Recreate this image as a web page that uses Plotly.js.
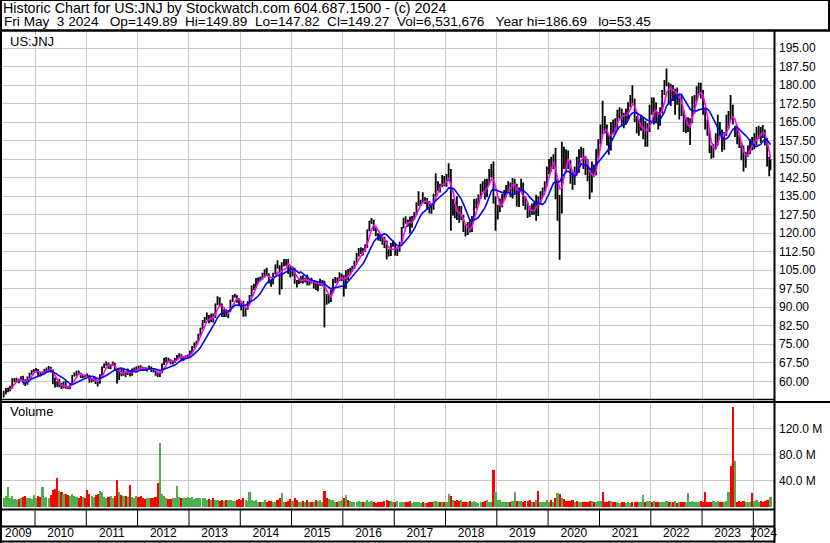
<!DOCTYPE html>
<html>
<head>
<meta charset="utf-8">
<script src="https://cdn.plot.ly/plotly-3.0.1.min.js"></script>
<style>
html,body{margin:0;padding:0;background:#ffffff;}
#chart{width:830px;height:543px;}
</style>
</head>
<body>
<div id="chart"></div>
<script>
// ---------------- DATA (semi-monthly bars, May 2009 - May 2024) ----------------
const open = [
  54.3,55.2,56.6,56.9,57.4,60.3,60.5,60.6,60.2,61.0,59.6,59.0,61.2,63.1,64.1,
  64.5,64.6,63.1,62.9,63.3,64.7,65.2,65.4,64.3,61.0,58.4,58.0,59.1,57.8,58.1,57.4,57.0,58.8,62.1,63.1,63.7,63.2,61.6,62.0,
  62.5,62.3,59.8,60.3,61.4,59.3,59.2,62.6,65.7,66.8,67.3,66.3,66.5,67.2,64.8,61.0,64.5,63.6,63.7,63.1,64.4,62.8,64.7,64.9,
  65.6,65.5,65.4,65.0,64.8,65.2,65.9,64.6,64.2,63.3,62.4,63.5,66.9,68.1,69.0,68.4,67.3,67.8,68.9,70.3,70.8,69.4,69.7,69.9,
  70.1,72.0,73.9,75.2,76.1,78.9,81.5,84.5,85.2,86.4,84.2,86.5,85.9,91.2,93.5,91.0,86.4,88.7,86.7,88.5,92.6,94.5,94.7,92.5,
  91.6,89.5,88.5,89.4,92.1,94.7,98.2,98.4,101.3,101.7,101.5,102.3,104.6,103.4,100.1,99.5,103.7,106.9,106.6,98.0,107.8,108.7,108.3,106.0,
  104.6,105.0,100.1,99.8,100.6,102.3,100.6,101.5,99.2,101.2,100.1,100.4,97.5,99.8,100.2,100.5,94.0,93.0,93.4,96.5,101.0,101.4,101.2,102.3,
  102.7,98.5,104.4,104.3,105.2,105.9,108.2,111.5,112.0,112.8,112.7,115.0,121.3,124.5,125.2,121.5,119.3,118.5,118.1,117.5,116.0,112.0,111.3,115.2,
  115.2,112.7,113.2,116.0,122.2,126.0,124.6,123.8,123.5,126.5,128.3,132.0,132.3,132.9,132.7,133.8,132.4,130.3,130.0,135.5,139.4,139.7,139.3,140.6,
  139.7,143.6,145.5,128.5,129.9,129.0,128.2,126.3,126.5,121.5,119.6,122.8,121.3,126.5,132.5,132.5,134.7,139.0,138.2,135.0,140.0,145.7,146.9,127.0,
  129.0,129.8,133.0,134.0,136.6,137.5,139.8,138.9,138.5,139.0,131.2,137.8,139.3,132.0,130.2,128.2,128.0,130.5,129.4,134.0,132.0,134.8,137.5,139.6,
  145.9,149.0,148.9,151.5,134.5,134.8,131.1,153.0,150.0,149.5,148.7,140.8,140.6,146.4,145.8,152.7,153.4,149.6,148.9,144.1,137.1,145.7,144.7,154.0,
  157.4,163.8,163.1,162.4,158.5,154.0,164.4,164.0,162.7,168.4,169.3,168.0,164.7,169.0,172.2,175.0,173.1,166.5,161.5,162.8,162.9,164.0,155.9,163.5,
  171.1,168.5,172.3,167.5,164.6,169.5,177.2,180.0,180.5,175.0,179.5,176.5,177.5,173.5,174.5,168.0,161.4,162.5,163.4,165.0,174.0,174.5,178.0,178.5,
  176.7,169.5,163.4,160.5,153.3,151.0,155.0,156.0,163.7,161.5,155.0,160.5,165.5,170.0,169.0,161.0,161.7,158.0,155.7,150.5,148.3,152.5,154.6,157.5,
  156.7,158.0,158.9,162.0,161.4,160.5,158.2,149.0,146.5
];
const high = [
  56.2,57.3,57.5,58.2,61.2,61.3,61.4,61.0,62.0,62.2,60.8,61.9,63.5,64.5,65.0,
  65.4,65.0,63.8,64.0,65.0,65.6,66.2,65.9,64.8,61.5,60.0,61.0,59.4,59.9,60.0,58.2,59.2,62.6,63.6,64.3,64.4,63.5,62.6,62.8,
  63.2,62.6,61.3,62.0,61.6,60.3,62.9,66.0,67.2,68.0,67.5,66.9,68.0,67.5,65.2,64.9,65.2,65.0,64.0,65.2,64.6,65.2,65.6,66.0,
  66.3,66.5,65.9,65.7,65.6,66.4,66.0,65.2,64.6,63.6,64.0,67.2,69.5,69.8,69.5,68.9,68.5,69.4,70.7,71.4,71.0,70.0,70.6,70.9,
  72.5,74.3,75.8,76.4,79.3,81.7,84.8,86.0,87.9,86.9,87.5,87.5,91.5,94.4,94.0,91.5,89.3,89.2,88.9,93.0,95.0,95.5,94.9,93.5,
  92.0,92.6,89.8,92.4,95.0,98.8,99.5,101.8,102.0,102.4,104.0,105.4,106.0,103.8,101.0,104.0,107.3,109.0,107.0,108.2,109.5,109.4,109.5,107.0,
  106.5,106.0,101.0,101.5,102.8,103.0,102.0,103.2,101.6,101.9,101.0,100.8,100.0,101.5,101.0,100.7,95.4,95.0,97.2,101.5,102.2,102.0,104.2,103.7,
  103.0,105.0,105.5,106.0,106.8,108.8,112.0,114.0,114.3,114.0,115.5,121.5,125.0,126.1,125.4,122.3,120.0,119.7,119.0,118.5,117.0,113.5,116.0,117.0,
  116.0,114.3,116.5,122.5,126.1,126.9,125.5,126.8,127.0,128.5,132.5,137.0,133.5,136.6,134.5,134.2,133.0,131.5,136.0,144.3,141.0,140.0,143.6,143.2,
  144.0,148.3,146.0,133.8,132.0,135.0,131.0,131.0,127.5,123.5,124.5,125.5,127.0,133.8,134.0,135.7,140.0,141.0,141.9,142.0,146.0,148.0,149.0,135.0,
  131.5,134.0,136.0,137.5,139.5,141.0,140.5,142.3,142.0,140.0,138.5,142.0,140.5,135.0,132.5,131.0,132.0,132.5,135.6,135.0,137.0,138.5,141.0,147.0,
  150.0,151.0,152.0,154.5,142.0,135.5,157.0,155.0,154.0,153.5,149.5,145.0,147.0,151.0,154.0,155.0,154.5,151.0,150.0,146.5,149.0,147.8,154.0,158.0,
  164.0,173.6,167.5,164.0,159.5,165.0,166.0,166.5,170.0,171.0,170.5,168.8,170.5,173.0,176.0,179.9,174.5,167.5,166.0,168.0,167.0,165.5,164.5,172.0,
  175.0,175.0,173.0,169.0,171.0,178.0,182.0,186.7,181.0,180.5,180.0,178.5,179.0,176.0,176.0,170.0,167.0,167.0,166.5,175.5,176.0,179.5,181.0,180.9,
  178.0,170.5,166.0,161.5,155.5,156.0,160.5,168.0,165.0,162.0,161.0,168.0,169.5,176.0,172.0,163.5,163.5,160.0,157.0,155.5,153.0,155.5,158.0,159.0,
  160.5,163.0,163.5,163.0,163.8,162.0,158.5,151.0,149.9
];
const low = [
  53.45,54.8,55.6,56.0,57.1,59.6,59.5,59.2,60.0,59.2,58.1,58.6,61.0,62.7,63.8,
  63.6,62.2,61.9,62.6,63.0,64.2,64.6,63.6,58.8,57.5,57.8,57.6,56.9,57.2,57.0,56.9,56.9,58.5,61.9,62.3,62.6,61.3,61.2,61.5,
  61.6,59.4,59.6,60.0,58.9,57.9,59.1,62.3,65.4,66.3,65.0,64.9,66.3,64.3,59.1,60.5,62.0,62.3,61.6,62.6,61.9,62.3,63.8,64.4,
  64.9,64.6,64.3,64.3,64.0,64.9,63.8,63.6,62.3,61.7,61.7,63.3,66.6,67.6,67.8,66.9,66.8,67.5,68.6,69.6,68.0,68.3,69.2,69.3,
  70.0,71.5,73.5,74.6,75.9,78.5,81.0,83.6,84.9,83.5,83.9,83.8,85.7,90.8,90.2,86.0,86.0,86.0,85.5,88.2,92.1,93.8,91.8,90.9,
  88.8,86.1,86.2,89.0,91.8,94.3,97.0,97.8,99.5,100.5,101.2,102.0,103.0,99.6,98.3,99.3,103.4,105.6,95.1,97.3,106.5,106.8,103.5,102.0,
  102.5,99.5,98.0,99.3,99.8,99.6,100.0,98.9,98.8,99.6,97.6,97.0,96.5,98.7,98.5,81.8,91.0,91.5,92.1,96.0,99.7,99.8,100.6,100.5,
  94.3,97.5,100.9,103.4,104.5,105.5,107.8,110.5,111.6,111.0,112.5,114.0,120.8,123.7,120.9,118.8,117.0,116.7,115.3,114.0,109.3,110.5,110.8,114.5,
  111.0,110.8,112.5,115.7,122.0,123.8,122.6,120.0,122.2,125.5,127.5,131.0,131.0,132.0,131.8,129.5,128.0,127.9,129.5,135.0,137.1,136.5,138.6,139.0,
  138.8,141.0,121.0,127.2,126.0,125.3,124.2,125.2,120.5,118.6,119.3,120.3,120.5,125.0,130.0,131.5,134.0,136.8,133.6,134.5,139.5,142.5,132.0,121.0,
  125.5,128.5,130.5,133.5,134.5,136.5,134.5,134.0,136.0,130.8,130.6,137.3,131.0,129.5,126.1,126.5,127.5,127.5,125.0,127.0,131.5,134.5,136.9,139.0,
  144.0,145.0,146.0,133.7,125.0,109.2,128.0,146.0,145.0,146.0,140.0,137.6,139.5,144.5,144.5,150.5,146.0,143.6,141.0,133.7,136.5,143.0,143.5,150.5,
  156.0,160.0,160.5,155.5,151.8,153.5,160.5,160.8,162.0,166.5,163.7,162.5,164.0,166.0,171.0,172.5,165.0,160.5,159.5,161.5,158.0,155.0,155.0,161.0,
  168.0,164.0,164.5,162.0,163.5,168.5,176.0,179.5,172.0,171.5,173.5,168.0,172.0,166.0,167.5,161.0,160.5,161.0,155.7,164.5,168.5,173.5,176.0,174.5,
  168.0,162.0,159.5,152.5,150.1,150.5,154.5,155.5,159.5,153.0,153.8,159.5,162.5,166.0,164.0,159.0,156.0,154.5,149.5,144.95,146.5,151.0,152.0,153.5,
  154.0,155.5,158.0,156.5,158.5,155.5,147.0,143.1,145.5
];
const close = [
  55.2,56.6,56.9,57.4,60.3,60.5,60.6,60.2,61.0,59.6,59.0,61.2,63.1,64.1,64.5,
  64.6,63.1,62.9,63.3,64.7,65.2,65.4,64.3,61.0,58.4,58.0,59.1,57.8,58.1,57.4,57.0,58.8,62.1,63.1,63.7,63.2,61.6,62.0,61.9,
  62.3,59.8,60.3,61.4,59.3,59.2,62.6,65.7,66.8,67.3,66.3,66.5,67.2,64.8,61.0,64.5,63.6,63.7,63.1,64.4,62.8,64.7,64.9,65.6,
  65.5,65.4,65.0,64.8,65.2,65.9,64.6,64.2,63.3,62.4,63.5,66.9,68.1,69.0,68.4,67.3,67.8,68.9,70.3,70.8,69.4,69.7,69.9,70.1,
  72.0,73.9,75.2,76.1,78.9,81.5,84.5,85.2,86.4,84.2,86.5,85.9,91.2,93.5,91.0,86.4,88.7,86.7,88.5,92.6,94.5,94.7,92.5,91.6,
  89.5,88.5,89.4,92.1,94.7,98.2,98.4,101.3,101.7,101.5,102.3,104.6,103.4,100.1,99.5,103.7,106.9,106.6,98.0,107.8,108.7,108.3,106.0,104.6,
  105.0,100.1,99.8,100.6,102.3,100.6,101.5,99.2,101.2,100.1,100.4,97.5,99.8,100.2,100.5,94.0,93.0,93.4,96.5,101.0,101.4,101.2,102.3,102.7,
  98.5,104.4,104.3,105.2,105.9,108.2,111.5,112.0,112.8,112.7,115.0,121.3,124.5,125.2,121.5,119.3,118.5,118.1,117.5,116.0,112.0,111.3,115.2,115.2,
  112.7,113.2,116.0,122.2,126.0,124.6,123.8,123.5,126.5,128.3,132.0,132.3,132.9,132.7,133.8,132.4,130.3,130.0,135.5,139.4,139.7,139.3,140.6,139.7,
  143.6,145.5,128.5,129.9,129.0,128.2,126.3,126.5,121.5,119.6,122.8,121.3,126.5,132.5,132.5,134.7,139.0,138.2,135.0,140.0,145.7,146.9,133.5,129.0,
  129.8,133.0,134.0,136.6,137.5,139.8,138.9,141.2,139.0,131.2,137.8,139.3,132.0,130.2,128.2,128.0,130.5,129.4,134.0,132.0,134.8,137.5,139.6,145.9,
  149.0,148.9,151.5,134.5,134.8,131.1,153.0,150.0,149.5,148.7,140.8,140.6,146.4,145.8,152.7,153.4,149.6,148.9,144.1,137.1,145.7,144.7,154.0,157.4,
  163.8,163.1,162.4,158.5,154.0,164.4,164.0,162.7,168.4,169.3,168.0,164.7,169.0,172.2,175.0,173.1,166.5,161.5,162.8,162.9,164.0,155.9,163.5,171.1,
  168.5,172.3,167.5,164.6,169.5,177.2,180.0,180.5,175.0,179.5,176.5,177.5,173.5,174.5,168.0,161.4,162.5,163.4,165.0,174.0,174.5,178.0,178.5,176.7,
  169.5,163.4,160.5,153.3,151.0,155.0,156.0,163.7,161.5,155.0,160.5,165.5,168.5,169.0,165.5,161.7,158.0,155.7,150.5,148.3,152.5,154.6,157.5,156.7,
  158.0,158.9,162.0,161.4,160.5,158.2,149.0,144.6,149.3
];
// volume in millions of shares
const volume = [
  14,16,31,13,16,12,11,12,14,15,16,14,13,12,18,
  14,16,15,31,14,15,13,18,26,28,44,24,22,19,20,18,17,19,16,15,14,16,15,13,
  26,20,17,15,18,20,24,22,15,14,15,17,13,16,41,22,18,17,17,15,33,15,14,16,
  15,16,13,12,13,14,13,14,15,37,97,20,16,14,12,12,13,14,32,15,14,13,14,15,
  14,15,12,13,13,14,13,14,11,12,11,13,11,10,9,10,9,11,10,11,9,9,10,12,
  10,13,11,9,23,10,9,10,8,8,8,10,8,9,9,7,8,10,14,21,8,8,9,12,
  9,13,10,8,8,9,8,10,8,7,8,10,9,10,8,24,14,12,10,11,8,8,9,11,
  13,18,10,9,8,8,8,9,7,7,8,10,8,9,7,6,7,8,8,9,10,9,9,8,
  8,9,8,8,8,8,7,9,6,7,7,8,6,8,6,6,7,8,9,9,7,7,8,8,
  8,19,16,10,9,10,9,10,8,8,7,9,7,9,7,6,8,8,9,10,8,8,56,23,
  10,10,8,7,8,8,8,9,22,9,9,9,8,9,9,10,8,8,10,25,8,7,8,10,
  8,10,8,13,21,19,14,12,9,9,9,10,8,9,7,7,8,8,7,9,9,8,7,9,
  9,22,8,8,9,9,7,7,7,6,7,8,6,7,6,7,7,8,7,7,18,8,9,9,
  8,9,7,8,8,8,7,9,8,8,7,9,6,8,7,7,8,21,8,9,7,7,7,9,
  8,22,8,8,8,9,7,9,7,8,7,9,22,63,152,70,8,9,8,9,8,7,8,21,
  9,10,8,9,8,9,10,11,15
];
const yearLabels = ['2009','2010','2011','2012','2013','2014','2015','2016','2017','2018','2019','2020','2021','2022','2023','2024'];
const priceTicks = [60,67.5,75,82.5,90,97.5,105,112.5,120,127.5,135,142.5,150,157.5,165,172.5,180,187.5,195];
const volumeTicks = [40,80,120];
const headerLine1 = 'Historic Chart for US:JNJ by Stockwatch.com 604.687.1500 - (c) 2024';
const headerLine2 = 'Fri May  3 2024   Op=149.89  Hi=149.89  Lo=147.82  Cl=149.27  Vol=6,531,676   Year hi=186.69   lo=53.45';

// ---------------- period dates (bar centres, two per month) ----------------
const periodDates = ['2009-05-23'];
for (let y = 2009; y <= 2024; y++) {
  for (let m = 1; m <= 12; m++) {
    if (y === 2009 && m < 6) continue;
    if (y === 2024 && m > 4) break;
    const mm = String(m).padStart(2, '0');
    periodDates.push(y + '-' + mm + '-08', y + '-' + mm + '-23');
  }
}
periodDates.push('2024-05-02');

// moving averages of the closes
function sma(arr, n) {
  return arr.map((v, i) => {
    if (i < n - 1) return null;
    let s = 0;
    for (let k = i - n + 1; k <= i; k++) s += arr[k];
    return s / n;
  });
}
const maShort = sma(close, 4);
const maLong = sma(close, 10);
const volColors = close.map((c, i) => c >= open[i] ? '#4caf50' : '#ff0000');

// ---------------- geometry helpers ----------------
const W = 830, H = 543, ML = 2, MR = 56, MT = 32, MB = 34;
const PW = W - ML - MR, PH = H - MT - MB;
const px = x => (x - ML) / PW;
const py = y => (H - MB - y) / PH;
const xStart = '2009-05-11', xEnd = '2024-05-27';
const yearStarts = [];
for (let y = 2010; y <= 2024; y++) yearStarts.push(y + '-01-01');
const tms = s => new Date(s + 'T00:00:00Z').getTime();
const iso = t => new Date(t).toISOString().slice(0, 10);
const labelPos = yearLabels.map(yl => {
  const a = Math.max(tms(yl + '-01-01'), tms(xStart));
  const b = Math.min(tms((+yl + 1) + '-01-01'), tms(xEnd));
  return iso((a + b) / 2);
});
const DAY = 86400000;

const FONT = 'Liberation Sans, Arial, sans-serif';
const GRID = '#c8c8c8';

const traces = [
  {type: 'ohlc', x: periodDates, open: open, high: high, low: low, close: close,
   xaxis: 'x', yaxis: 'y', tickwidth: 0.3,
   increasing: {line: {color: '#000000', width: 1.8}},
   decreasing: {line: {color: '#000000', width: 1.8}},
   hoverinfo: 'skip', showlegend: false},
  {type: 'scatter', mode: 'lines', x: periodDates, y: maShort, xaxis: 'x', yaxis: 'y',
   line: {color: '#ff00ff', width: 1.6}, hoverinfo: 'skip', showlegend: false},
  {type: 'scatter', mode: 'lines', x: periodDates, y: maLong, xaxis: 'x', yaxis: 'y',
   line: {color: '#0000ff', width: 1.6}, hoverinfo: 'skip', showlegend: false},
  {type: 'bar', x: periodDates, y: volume, xaxis: 'x2', yaxis: 'y2', width: 15.2 * DAY,
   marker: {color: volColors, line: {width: 0}}, hoverinfo: 'skip', showlegend: false}
];

function hline(y, x0, x1, w) {
  return {type: 'line', xref: 'paper', yref: 'paper', x0: px(x0), x1: px(x1), y0: py(y), y1: py(y),
          line: {color: '#000000', width: w}};
}
function vline(x, y0, y1, w) {
  return {type: 'line', xref: 'paper', yref: 'paper', x0: px(x), x1: px(x), y0: py(y0), y1: py(y1),
          line: {color: '#000000', width: w}};
}
const shapes = [
  hline(0.5, 0, 830, 1),
  vline(829, 0, 31, 2),
  hline(30.5, 0, 830, 2.5),
  vline(1, 0, 543, 2),
  vline(774.5, 31, 543, 2),
  hline(399.5, 0, 774, 1.5),
  hline(402, 0, 830, 2),
  hline(509.5, 0, 774, 2),
  hline(526.5, 0, 774, 2),
  hline(541.5, 0, 774, 2)
];
yearStarts.forEach(d => {
  const bottom = d === '2024-01-01' ? 541 : 526;
  shapes.push({type: 'line', xref: 'x2', yref: 'paper', x0: d, x1: d, y0: py(bottom), y1: py(509),
               line: {color: '#000000', width: 1}});
});

const layout = {
  width: W, height: H,
  margin: {l: ML, r: MR, t: MT, b: MB, pad: 0},
  paper_bgcolor: '#ffffff', plot_bgcolor: '#ffffff',
  font: {family: FONT, size: 12, color: '#000000'},
  showlegend: false,
  bargap: 0,
  title: {text: headerLine1, xref: 'container', yref: 'container', x: 3 / W, xanchor: 'left',
          y: 1 - 7.5 / H, yanchor: 'middle', font: {family: FONT, size: 14.3, color: '#000000'}},
  xaxis: {domain: [0, 1], anchor: 'y', type: 'date', range: [xStart, xEnd],
          tickmode: 'array', tickvals: yearStarts, showticklabels: false, ticks: '',
          showgrid: true, gridcolor: GRID, gridwidth: 1, zeroline: false, showline: false,
          rangeslider: {visible: false}, fixedrange: true},
  xaxis2: {domain: [0, 1], anchor: 'y2', type: 'date', range: [xStart, xEnd], matches: 'x',
           tickmode: 'array', tickvals: labelPos, ticktext: yearLabels,
           ticks: 'outside', ticklen: 13, tickcolor: 'rgba(0,0,0,0)',
           showgrid: false, zeroline: false, showline: false,
           minor: {tickmode: 'array', tickvals: yearStarts, showgrid: true, gridcolor: GRID, gridwidth: 1, ticks: ''},
           tickfont: {family: FONT, size: 12, color: '#000000'}, fixedrange: true},
  yaxis: {domain: [py(399.5), 1], anchor: 'x', side: 'right', range: [52.63, 201.48],
          tickmode: 'array', tickvals: priceTicks, ticktext: priceTicks.map(v => v.toFixed(2)),
          ticks: '', ticklabelstandoff: 4, showgrid: true, gridcolor: GRID, gridwidth: 1,
          zeroline: false, showline: false, tickfont: {family: FONT, size: 12, color: '#000000'}, fixedrange: true},
  yaxis2: {domain: [0, py(402.5)], anchor: 'x2', side: 'right', range: [-3.2, 159.4],
           tickmode: 'array', tickvals: volumeTicks, ticktext: volumeTicks.map(v => v.toFixed(1) + ' M'),
           ticks: '', ticklabelstandoff: 4, showgrid: true, gridcolor: GRID, gridwidth: 1,
           zeroline: false, showline: false, tickfont: {family: FONT, size: 12, color: '#000000'}, fixedrange: true},
  shapes: shapes,
  annotations: [
    {xref: 'paper', yref: 'paper', x: 0, y: py(21.5), xanchor: 'left', yanchor: 'middle', showarrow: false,
     text: headerLine2.replace(/ /g, '\u00a0'), font: {family: FONT, size: 13.6, color: '#000000'}},
    {xref: 'paper', yref: 'paper', x: px(8), y: py(41), xanchor: 'left', yanchor: 'middle', showarrow: false,
     text: 'US:JNJ', font: {family: FONT, size: 13, color: '#000000'}},
    {xref: 'paper', yref: 'paper', x: px(8), y: py(411), xanchor: 'left', yanchor: 'middle', showarrow: false,
     text: 'Volume', font: {family: FONT, size: 13, color: '#000000'}}
  ]
};

Plotly.newPlot('chart', traces, layout, {staticPlot: true, displayModeBar: false});
</script>
</body>
</html>
